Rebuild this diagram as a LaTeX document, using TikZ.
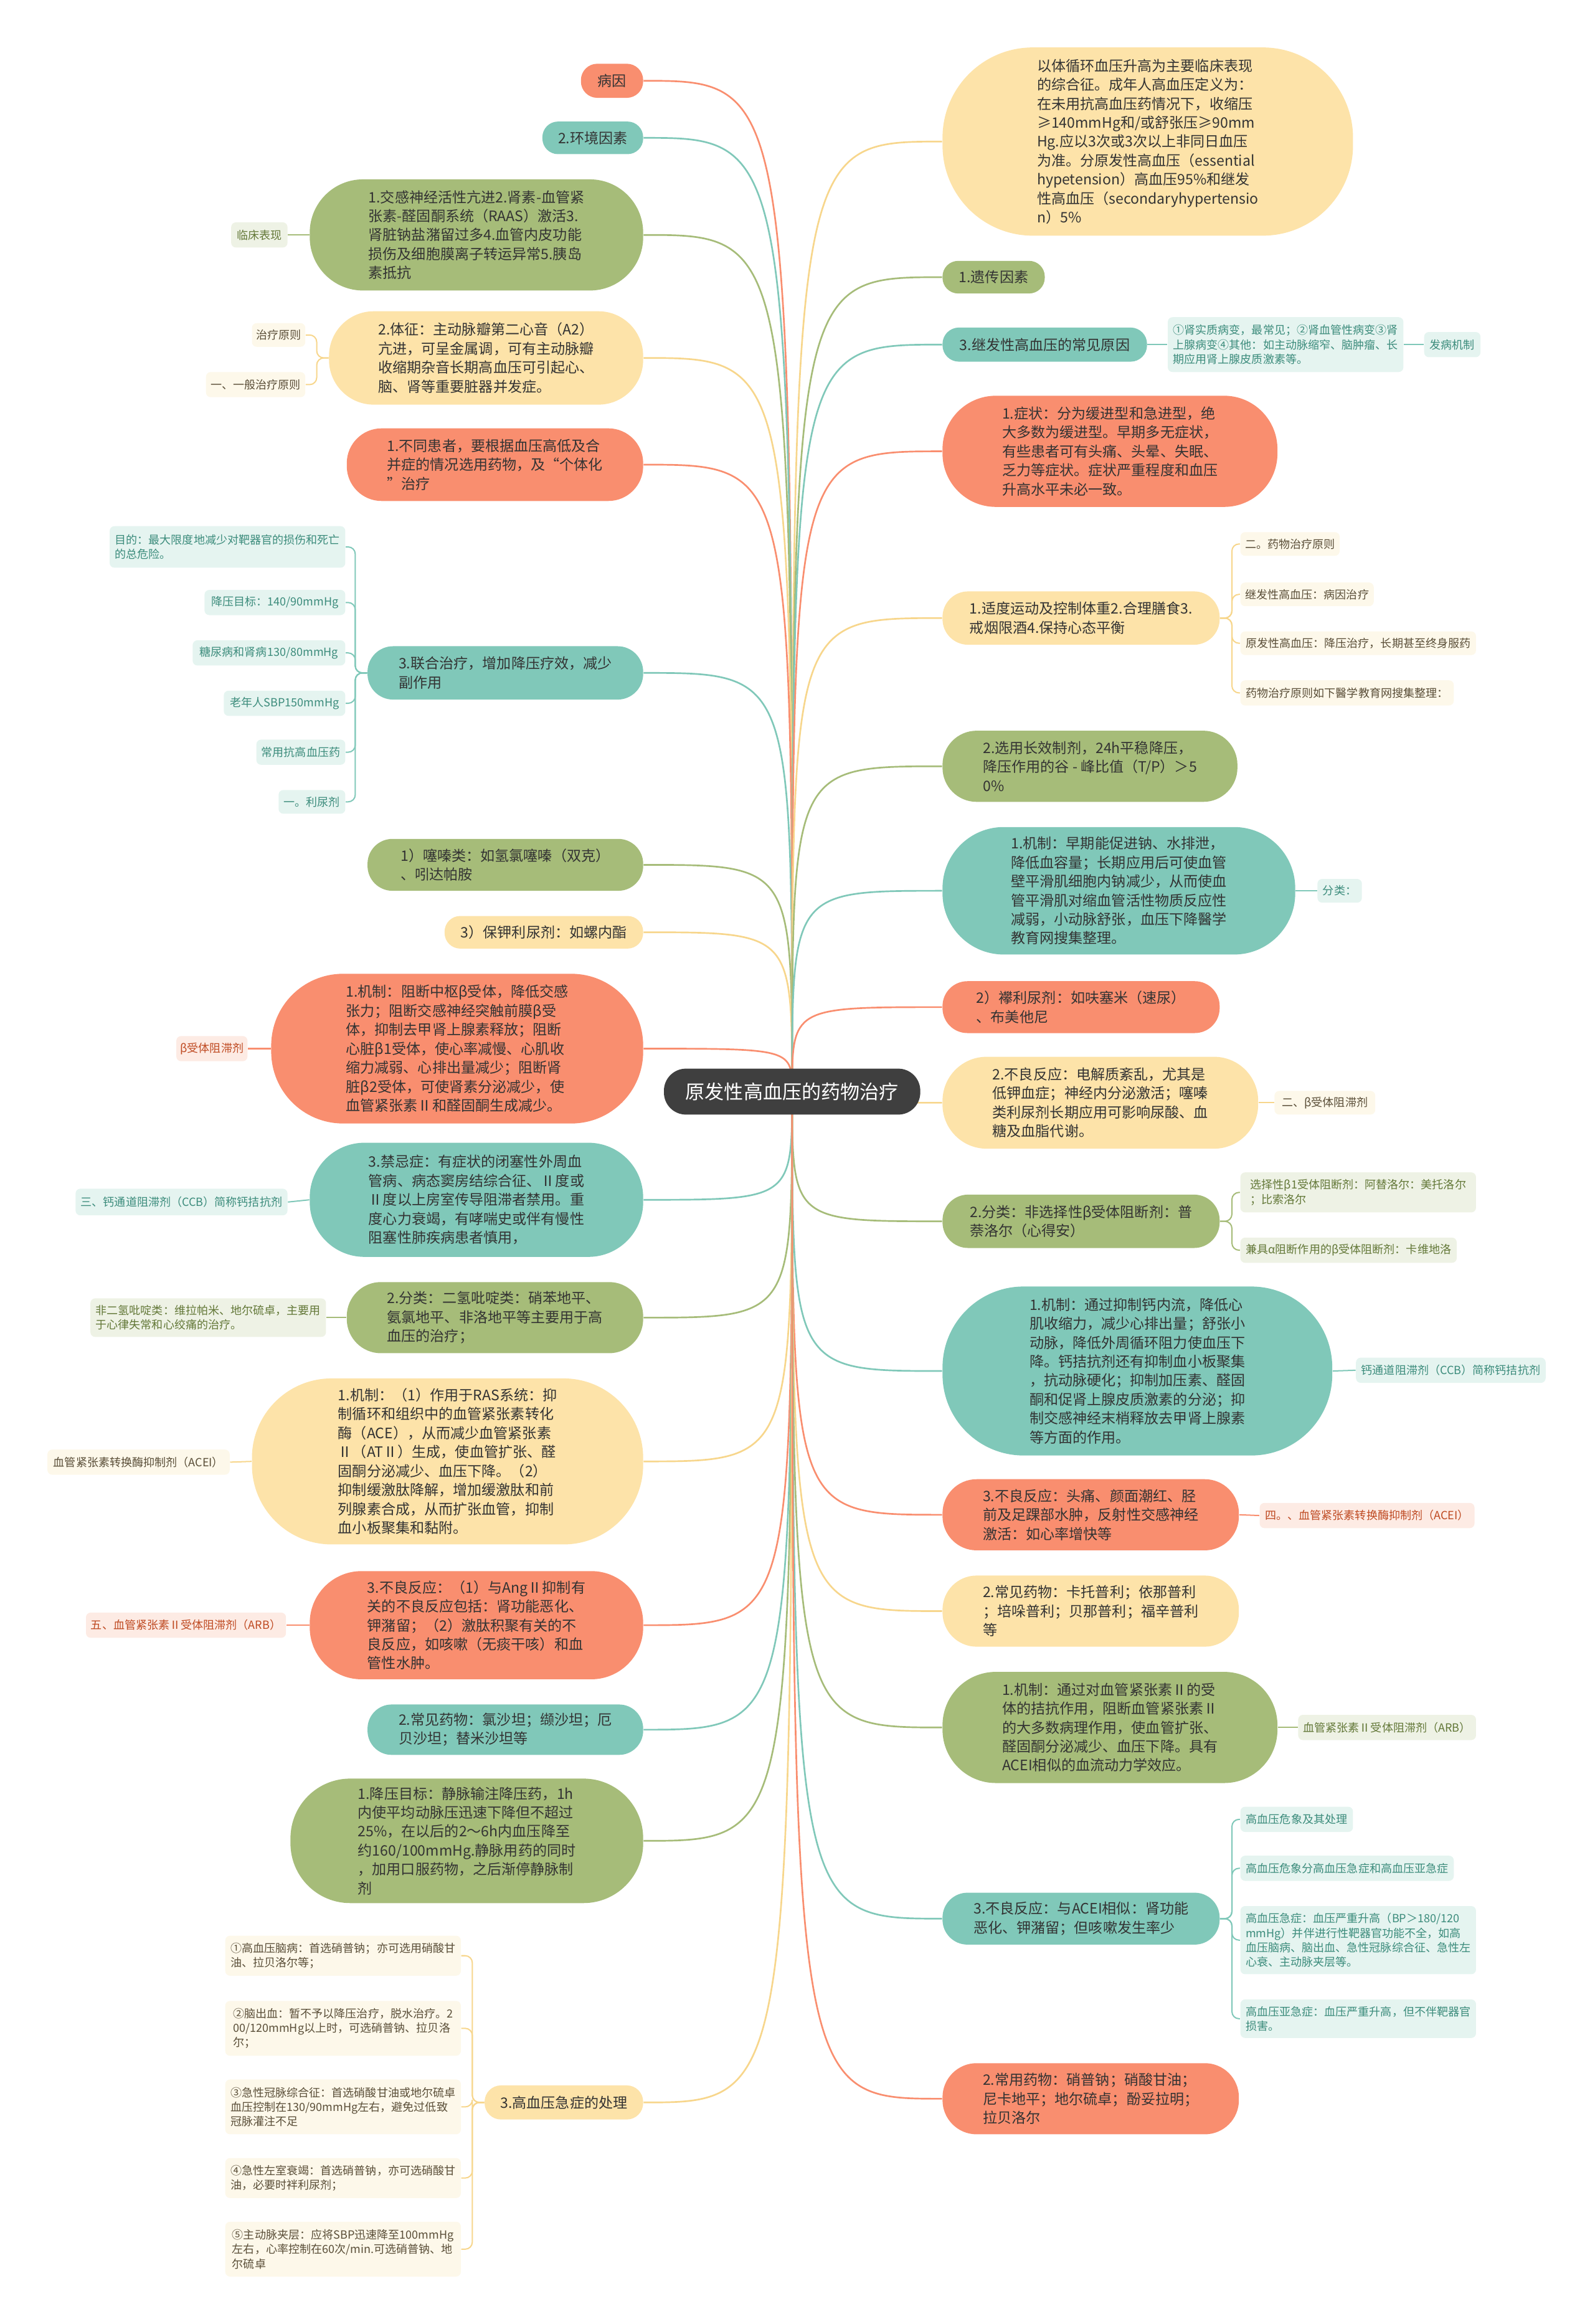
\documentclass[tikz,border=0pt]{standalone}
\usepackage{fontspec}
\setmainfont{Noto Sans CJK SC}
\usetikzlibrary{backgrounds}

\definecolor{csalmon}{HTML}{F98E6F}
\definecolor{cteal}{HTML}{80C8B9}
\definecolor{cgreen}{HTML}{A6BC79}
\definecolor{cyellow}{HTML}{FDE3A9}
\definecolor{croot}{HTML}{3F3F3F}
\definecolor{lsalmon}{HTML}{FDEBE4}
\definecolor{lteal}{HTML}{E5F4F0}
\definecolor{lgreen}{HTML}{EEF2E5}
\definecolor{lcream}{HTML}{FDF8EA}
\definecolor{tsalmon}{HTML}{BF4A22}
\definecolor{tteal}{HTML}{3C8C7C}
\definecolor{tgreen}{HTML}{637838}
\definecolor{tcream}{HTML}{5A4E38}
\definecolor{lnyellow}{HTML}{F7D68C}

% left aligned block of lines
\newcommand{\mltext}[1]{\vbox{\let\\\cr\halign{##\hfil\cr#1\crcr}}}

\tikzset{
  boxsize/.style 2 args={minimum width=#1*0.025cm, minimum height=#2*0.025cm},
  mtext/.style={inner sep=0pt, text=black!80, font=\fontsize{6.9}{9.1}\selectfont},
  ltext/.style={inner sep=0pt, rounded corners=0.08cm, font=\fontsize{5.4}{6.95}\selectfont},
  pill/.style={rounded corners=#1*0.012cm},
  rootbox/.style={inner sep=0pt, fill=croot, text=white, font=\fontsize{9.3}{11}\selectfont},
  salmonbox/.style={mtext, fill=csalmon},
  tealbox/.style={mtext, fill=cteal},
  greenbox/.style={mtext, fill=cgreen},
  yellowbox/.style={mtext, fill=cyellow},
  salmonleaf/.style={ltext, fill=lsalmon, text=tsalmon},
  tealleaf/.style={ltext, fill=lteal, text=tteal},
  greenleaf/.style={ltext, fill=lgreen, text=tgreen},
  creamleaf/.style={ltext, fill=lcream, text=tcream},
  salmonline/.style={draw=csalmon, line width=0.8pt},
  tealline/.style={draw=cteal, line width=0.8pt},
  greenline/.style={draw=cgreen, line width=0.8pt},
  yellowline/.style={draw=lnyellow, line width=0.8pt},
  salmonthin/.style={draw=csalmon, line width=0.6pt, rounded corners=0.12cm},
  tealthin/.style={draw=cteal, line width=0.6pt, rounded corners=0.12cm},
  greenthin/.style={draw=cgreen, line width=0.6pt, rounded corners=0.12cm},
  yellowthin/.style={draw=lnyellow, line width=0.6pt, rounded corners=0.12cm},
}

\begin{document}
\begin{tikzpicture}[x=0.025cm, y=-0.025cm]
\useasboundingbox (0,0) rectangle (1076,1568);

% root
\node (root) [rootbox, pill=31, boxsize={173}{31}] at (534.5,736.5) {原发性高血压的药物治疗};

% LEFT SIDE
\node (L1) [salmonbox, pill=23, boxsize={42}{23}] at (413,54.5) {病因};
\node (L2) [tealbox, pill=22, boxsize={68}{22}] at (400,93) {2.环境因素};
\node (L3) [greenbox, pill=75, boxsize={225}{75}] at (321.5,158.5) {\mltext{1.交感神经活性亢进2.肾素-血管紧\\张素-醛固酮系统（RAAS）激活3.\\肾脏钠盐潴留过多4.血管内皮功能\\损伤及细胞膜离子转运异常5.胰岛\\素抵抗}};
\node (L3a) [greenleaf, boxsize={38}{17}] at (175,158.5) {临床表现};
\node (L4) [yellowbox, pill=63, boxsize={212}{63}] at (328,241.5) {\mltext{2.体征：主动脉瓣第二心音（A2）\\亢进，可呈金属调，可有主动脉瓣\\收缩期杂音长期高血压可引起心、\\脑、肾等重要脏器并发症。}};
\node (L4a) [creamleaf, boxsize={36}{16}] at (188,226) {治疗原则};
\node (L4b) [creamleaf, boxsize={67}{17}] at (172.5,259.5) {一、一般治疗原则};
\node (L5) [salmonbox, pill=49, boxsize={200}{49}] at (334,313.5) {\mltext{1.不同患者，要根据血压高低及合\\并症的情况选用药物，及“个体化\\”治疗}};
\node (L6) [tealbox, pill=36, boxsize={186}{36}] at (341,454) {\mltext{3.联合治疗，增加降压疗效，减少\\副作用}};
\node (L6a) [tealleaf, boxsize={159}{28}] at (153.5,369) {\mltext{目的：最大限度地减少对靶器官的损伤和死亡\\的总危险。}};
\node (L6b) [tealleaf, boxsize={95}{17}] at (185.5,406.5) {降压目标：140/90mmHg};
\node (L6c) [tealleaf, boxsize={103}{17}] at (181.5,440.5) {糖尿病和肾病130/80mmHg};
\node (L6d) [tealleaf, boxsize={82}{17}] at (192,474.5) {老年人SBP150mmHg};
\node (L6e) [tealleaf, boxsize={60}{17}] at (203,507.5) {常用抗高血压药};
\node (L6f) [tealleaf, boxsize={45}{16}] at (210.5,541) {一。利尿剂};
\node (L7) [greenbox, pill=35, boxsize={186}{35}] at (341,583.5) {\mltext{1）噻嗪类：如氢氯噻嗪（双克）\\、吲达帕胺}};
\node (L8) [yellowbox, pill=22, boxsize={134}{22}] at (367,629) {3）保钾利尿剂：如螺内酯};
\node (L9) [salmonbox, pill=101, boxsize={251}{101}] at (308.5,707.5) {\mltext{1.机制：阻断中枢β受体，降低交感\\张力；阻断交感神经突触前膜β受\\体，抑制去甲肾上腺素释放；阻断\\心脏β1受体，使心率减慢、心肌收\\缩力减弱、心排出量减少；阻断肾\\脏β2受体，可使肾素分泌减少，使\\血管紧张素Ⅱ和醛固酮生成减少。}};
\node (L9a) [salmonleaf, boxsize={48}{17}] at (143,707.5) {β受体阻滞剂};
\node (L10) [tealbox, pill=77, boxsize={225}{77}] at (321.5,809.5) {\mltext{3.禁忌症：有症状的闭塞性外周血\\管病、病态窦房结综合征、Ⅱ度或\\Ⅱ度以上房室传导阻滞者禁用。重\\度心力衰竭，有哮喘史或伴有慢性\\阻塞性肺疾病患者慎用，}};
\node (L10a) [tealleaf, boxsize={143}{18}] at (122.5,811) {三、钙通道阻滞剂（CCB）简称钙拮抗剂};
\node (L11) [greenbox, pill=48, boxsize={200}{48}] at (334,889) {\mltext{2.分类：二氢吡啶类：硝苯地平、\\氨氯地平、非洛地平等主要用于高\\血压的治疗；}};
\node (L11a) [greenleaf, boxsize={159}{26}] at (140.5,889) {\mltext{非二氢吡啶类：维拉帕米、地尔硫卓，主要用\\于心律失常和心绞痛的治疗。}};
\node (L12) [yellowbox, pill=112, boxsize={264}{112}] at (302,986) {\mltext{1.机制：（1）作用于RAS系统：抑\\制循环和组织中的血管紧张素转化\\酶（ACE），从而减少血管紧张素\\Ⅱ（ATⅡ）生成，使血管扩张、醛\\固酮分泌减少、血压下降。（2）\\抑制缓激肽降解，增加缓激肽和前\\列腺素合成，从而扩张血管，抑制\\血小板聚集和黏附。}};
\node (L12a) [creamleaf, boxsize={123}{17}] at (93.5,986.5) {血管紧张素转换酶抑制剂（ACEI）};
\node (L13) [salmonbox, pill=73, boxsize={225}{73}] at (321.5,1096.5) {\mltext{3.不良反应：（1）与AngⅡ抑制有\\关的不良反应包括：肾功能恶化、\\钾潴留；（2）激肽积聚有关的不\\良反应，如咳嗽（无痰干咳）和血\\管性水肿。}};
\node (L13a) [salmonleaf, boxsize={135}{17}] at (125.5,1096.5) {五、血管紧张素Ⅱ受体阻滞剂（ARB）};
\node (L14) [tealbox, pill=34, boxsize={186}{34}] at (341,1167) {\mltext{2.常见药物：氯沙坦；缬沙坦；厄\\贝沙坦；替米沙坦等}};
\node (L15) [greenbox, pill=84, boxsize={238}{84}] at (315,1242) {\mltext{1.降压目标：静脉输注降压药，1h\\内使平均动脉压迅速下降但不超过\\25\%，在以后的2～6h内血压降至\\约160/100mmHg.静脉用药的同时\\，加用口服药物，之后渐停静脉制\\剂}};
\node (L16) [yellowbox, pill=23, boxsize={107}{23}] at (380.5,1418.5) {3.高血压急症的处理};
\node (L16a) [creamleaf, boxsize={159}{27}] at (231.5,1319.5) {\mltext{①高血压脑病：首选硝普钠；亦可选用硝酸甘\\油、拉贝洛尔等；}};
\node (L16b) [creamleaf, boxsize={159}{37}] at (231.5,1368.5) {\mltext{②脑出血：暂不予以降压治疗，脱水治疗。2\\00/120mmHg以上时，可选硝普钠、拉贝洛\\尔；}};
\node (L16c) [creamleaf, boxsize={159}{37}] at (231.5,1421.5) {\mltext{③急性冠脉综合征：首选硝酸甘油或地尔硫卓\\血压控制在130/90mmHg左右，避免过低致\\冠脉灌注不足}};
\node (L16d) [creamleaf, boxsize={159}{27}] at (231.5,1469.5) {\mltext{④急性左室衰竭：首选硝普钠，亦可选硝酸甘\\油，必要时袢利尿剂；}};
\node (L16e) [creamleaf, boxsize={159}{37}] at (231.5,1517.5) {\mltext{⑤主动脉夹层：应将SBP迅速降至100mmHg\\左右，心率控制在60次/min.可选硝普钠、地\\尔硫卓}};

% RIGHT SIDE
\node (R1) [yellowbox, pill=127, boxsize={277}{127}] at (774.5,95.5) {\mltext{以体循环血压升高为主要临床表现\\的综合征。成年人高血压定义为：\\在未用抗高血压药情况下，收缩压\\≥140mmHg和/或舒张压≥90mm\\Hg.应以3次或3次以上非同日血压\\为准。分原发性高血压（essential\\hypetension）高血压95\%和继发\\性高血压（secondaryhypertensio\\n）5\%}};
\node (R2) [greenbox, pill=22, boxsize={69}{22}] at (670.5,187) {1.遗传因素};
\node (R3) [tealbox, pill=23, boxsize={138}{23}] at (705,232.5) {3.继发性高血压的常见原因};
\node (R3a) [tealleaf, boxsize={159}{37}] at (867.5,232.5) {\mltext{①肾实质病变，最常见；②肾血管性病变③肾\\上腺病变④其他：如主动脉缩窄、脑肿瘤、长\\期应用肾上腺皮质激素等。}};
\node (R3b) [tealleaf, boxsize={38}{17}] at (980,232.5) {发病机制};
\node (R4) [salmonbox, pill=75, boxsize={226}{75}] at (749,304.5) {\mltext{1.症状：分为缓进型和急进型，绝\\大多数为缓进型。早期多无症状，\\有些患者可有头痛、头晕、失眠、\\乏力等症状。症状严重程度和血压\\升高水平未必一致。}};
\node (R5) [yellowbox, pill=36, boxsize={187}{36}] at (729.5,417) {\mltext{1.适度运动及控制体重2.合理膳食3.\\戒烟限酒4.保持心态平衡}};
\node (R5a) [creamleaf, boxsize={67}{16}] at (870.5,367) {二。药物治疗原则};
\node (R5b) [creamleaf, boxsize={90}{16}] at (882,401) {继发性高血压：病因治疗};
\node (R5c) [creamleaf, boxsize={159}{16}] at (916.5,434) {原发性高血压：降压治疗，长期甚至终身服药};
\node (R5d) [creamleaf, boxsize={144}{17}] at (909,467.5) {药物治疗原则如下醫学教育网搜集整理：};
\node (R6) [greenbox, pill=48, boxsize={199}{48}] at (735.5,517) {\mltext{2.选用长效制剂，24h平稳降压，\\降压作用的谷 - 峰比值（T/P）＞5\\0\%}};
\node (R7) [tealbox, pill=86, boxsize={238}{86}] at (755,601) {\mltext{1.机制：早期能促进钠、水排泄，\\降低血容量；长期应用后可使血管\\壁平滑肌细胞内钠减少，从而使血\\管平滑肌对缩血管活性物质反应性\\减弱，小动脉舒张，血压下降醫学\\教育网搜集整理。}};
\node (R7a) [tealleaf, boxsize={30}{16}] at (904,601) {分类：};
\node (R8) [salmonbox, pill=35, boxsize={187}{35}] at (729.5,679.5) {\mltext{2）襻利尿剂：如呋塞米（速尿）\\、布美他尼}};
\node (R9) [yellowbox, pill=62, boxsize={213}{62}] at (742.5,744) {\mltext{2.不良反应：电解质紊乱，尤其是\\低钾血症；神经内分泌激活；噻嗪\\类利尿剂长期应用可影响尿酸、血\\糖及血脂代谢。}};
\node (R9a) [creamleaf, boxsize={68}{16}] at (894,744) {二、β受体阻滞剂};
\node (R10) [greenbox, pill=36, boxsize={187}{36}] at (729.5,824) {\mltext{2.分类：非选择性β受体阻断剂：普\\萘洛尔（心得安）}};
\node (R10a) [greenleaf, boxsize={159}{27}] at (916.5,804.5) {\mltext{选择性β1受体阻断剂：阿替洛尔：美托洛尔\\；比索洛尔}};
\node (R10b) [greenleaf, boxsize={146}{17}] at (910,843.5) {兼具α阻断作用的β受体阻断剂：卡维地洛};
\node (R11) [tealbox, pill=114, boxsize={263}{114}] at (767.5,925) {\mltext{1.机制：通过抑制钙内流，降低心\\肌收缩力，减少心排出量；舒张小\\动脉，降低外周循环阻力使血压下\\降。钙拮抗剂还有抑制血小板聚集\\，抗动脉硬化；抑制加压素、醛固\\酮和促肾上腺皮质激素的分泌；抑\\制交感神经末梢释放去甲肾上腺素\\等方面的作用。}};
\node (R11a) [tealleaf, boxsize={128}{17}] at (979,924.5) {钙通道阻滞剂（CCB）简称钙拮抗剂};
\node (R12) [salmonbox, pill=48, boxsize={200}{48}] at (736,1022) {\mltext{3.不良反应：头痛、颜面潮红、胫\\前及足踝部水肿，反射性交感神经\\激活：如心率增快等}};
\node (R12a) [salmonleaf, boxsize={145}{17}] at (922.5,1022.5) {四。、血管紧张素转换酶抑制剂（ACEI）};
\node (R13) [yellowbox, pill=48, boxsize={200}{48}] at (736,1087) {\mltext{2.常见药物：卡托普利；依那普利\\；培哚普利；贝那普利；福辛普利\\等}};
\node (R14) [greenbox, pill=75, boxsize={226}{75}] at (749,1165.5) {\mltext{1.机制：通过对血管紧张素Ⅱ的受\\体的拮抗作用，阻断血管紧张素Ⅱ\\的大多数病理作用，使血管扩张、\\醛固酮分泌减少、血压下降。具有\\ACEI相似的血流动力学效应。}};
\node (R14a) [greenleaf, boxsize={120}{17}] at (936,1165.5) {血管紧张素Ⅱ受体阻滞剂（ARB）};
\node (R15) [tealbox, pill=35, boxsize={187}{35}] at (729.5,1294.5) {\mltext{3.不良反应：与ACEI相似：肾功能\\恶化、钾潴留；但咳嗽发生率少}};
\node (R15a) [tealleaf, boxsize={76}{17}] at (875,1227.5) {高血压危象及其处理};
\node (R15b) [tealleaf, boxsize={144}{17}] at (909,1260.5) {高血压危象分高血压急症和高血压亚急症};
\node (R15c) [tealleaf, boxsize={159}{46}] at (916.5,1309) {\mltext{高血压急症：血压严重升高（BP＞180/120\\mmHg）并伴进行性靶器官功能不全，如高\\血压脑病、脑出血、急性冠脉综合征、急性左\\心衰、主动脉夹层等。}};
\node (R15d) [tealleaf, boxsize={159}{26}] at (916.5,1362) {\mltext{高血压亚急症：血压严重升高，但不伴靶器官\\损害。}};
\node (R16) [salmonbox, pill=48, boxsize={200}{48}] at (736,1416) {\mltext{2.常用药物：硝普钠；硝酸甘油；\\尼卡地平；地尔硫卓；酚妥拉明；\\拉贝洛尔}};

\begin{scope}[on background layer]
% branches from root, left
\draw[salmonline] (root.center) .. controls (root.center |- L1.east) .. (L1.east);
\draw[tealline] (root.center) .. controls (root.center |- L2.east) .. (L2.east);
\draw[greenline] (root.center) .. controls (root.center |- L3.east) .. (L3.east);
\draw[yellowline] (root.center) .. controls (root.center |- L4.east) .. (L4.east);
\draw[salmonline] (root.center) .. controls (root.center |- L5.east) .. (L5.east);
\draw[tealline] (root.center) .. controls (root.center |- L6.east) .. (L6.east);
\draw[greenline] (root.center) .. controls (root.center |- L7.east) .. (L7.east);
\draw[yellowline] (root.center) .. controls (root.center |- L8.east) .. (L8.east);
\draw[salmonline] (root.center) .. controls (root.center |- L9.east) .. (L9.east);
\draw[tealline] (root.center) .. controls (root.center |- L10.east) .. (L10.east);
\draw[greenline] (root.center) .. controls (root.center |- L11.east) .. (L11.east);
\draw[yellowline] (root.center) .. controls (root.center |- L12.east) .. (L12.east);
\draw[salmonline] (root.center) .. controls (root.center |- L13.east) .. (L13.east);
\draw[tealline] (root.center) .. controls (root.center |- L14.east) .. (L14.east);
\draw[greenline] (root.center) .. controls (root.center |- L15.east) .. (L15.east);
\draw[yellowline] (root.center) .. controls (root.center |- L16.east) .. (L16.east);
% branches from root, right
\draw[yellowline] (root.center) .. controls (root.center |- R1.west) .. (R1.west);
\draw[greenline] (root.center) .. controls (root.center |- R2.west) .. (R2.west);
\draw[tealline] (root.center) .. controls (root.center |- R3.west) .. (R3.west);
\draw[salmonline] (root.center) .. controls (root.center |- R4.west) .. (R4.west);
\draw[yellowline] (root.center) .. controls (root.center |- R5.west) .. (R5.west);
\draw[greenline] (root.center) .. controls (root.center |- R6.west) .. (R6.west);
\draw[tealline] (root.center) .. controls (root.center |- R7.west) .. (R7.west);
\draw[salmonline] (root.center) .. controls (root.center |- R8.west) .. (R8.west);
\draw[yellowline] (root.center) .. controls (root.center |- R9.west) .. (R9.west);
\draw[greenline] (root.center) .. controls (root.center |- R10.west) .. (R10.west);
\draw[tealline] (root.center) .. controls (root.center |- R11.west) .. (R11.west);
\draw[salmonline] (root.center) .. controls (root.center |- R12.west) .. (R12.west);
\draw[yellowline] (root.center) .. controls (root.center |- R13.west) .. (R13.west);
\draw[greenline] (root.center) .. controls (root.center |- R14.west) .. (R14.west);
\draw[tealline] (root.center) .. controls (root.center |- R15.west) .. (R15.west);
\draw[salmonline] (root.center) .. controls (root.center |- R16.west) .. (R16.west);

% leaves, left
\draw[greenthin] (L3.west) -- (L3a.east);
\draw[yellowthin] (L4.west) -- ++(-8,0) |- (L4a.east);
\draw[yellowthin] (L4.west) -- ++(-8,0) |- (L4b.east);
\draw[tealthin] (L6.west) -- ++(-8,0) |- (L6a.east);
\draw[tealthin] (L6.west) -- ++(-8,0) |- (L6b.east);
\draw[tealthin] (L6.west) -- ++(-8,0) |- (L6c.east);
\draw[tealthin] (L6.west) -- ++(-8,0) |- (L6d.east);
\draw[tealthin] (L6.west) -- ++(-8,0) |- (L6e.east);
\draw[tealthin] (L6.west) -- ++(-8,0) |- (L6f.east);
\draw[salmonthin] (L9.west) -- (L9a.east);
\draw[tealthin] (L10.west) -- (L10a.east);
\draw[greenthin] (L11.west) -- (L11a.east);
\draw[yellowthin] (L12.west) -- (L12a.east);
\draw[salmonthin] (L13.west) -- (L13a.east);
\draw[yellowthin] (L16.west) -- ++(-8,0) |- (L16a.east);
\draw[yellowthin] (L16.west) -- ++(-8,0) |- (L16b.east);
\draw[yellowthin] (L16.west) -- ++(-8,0) |- (L16c.east);
\draw[yellowthin] (L16.west) -- ++(-8,0) |- (L16d.east);
\draw[yellowthin] (L16.west) -- ++(-8,0) |- (L16e.east);
% leaves, right
\draw[tealthin] (R3.east) -- (R3a.west);
\draw[tealthin] (R3a.east) -- (R3b.west);
\draw[yellowthin] (R5.east) -- ++(8,0) |- (R5a.west);
\draw[yellowthin] (R5.east) -- ++(8,0) |- (R5b.west);
\draw[yellowthin] (R5.east) -- ++(8,0) |- (R5c.west);
\draw[yellowthin] (R5.east) -- ++(8,0) |- (R5d.west);
\draw[tealthin] (R7.east) -- (R7a.west);
\draw[yellowthin] (R9.east) -- (R9a.west);
\draw[greenthin] (R10.east) -- ++(8,0) |- (R10a.west);
\draw[greenthin] (R10.east) -- ++(8,0) |- (R10b.west);
\draw[tealthin] (R11.east) -- (R11a.west);
\draw[salmonthin] (R12.east) -- (R12a.west);
\draw[greenthin] (R14.east) -- (R14a.west);
\draw[tealthin] (R15.east) -- ++(8,0) |- (R15a.west);
\draw[tealthin] (R15.east) -- ++(8,0) |- (R15b.west);
\draw[tealthin] (R15.east) -- ++(8,0) |- (R15c.west);
\draw[tealthin] (R15.east) -- ++(8,0) |- (R15d.west);
\end{scope}
\end{tikzpicture}
\end{document}
